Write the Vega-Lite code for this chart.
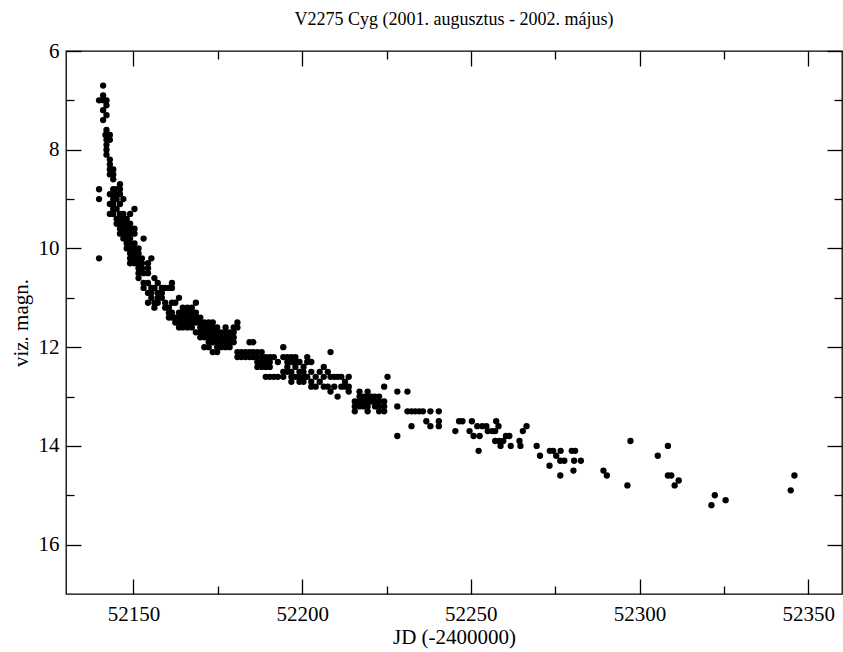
{
 "$schema": "https://vega.github.io/schema/vega-lite/v6.json",
 "width": 776,
 "height": 543,
 "autosize": "none",
 "padding": {"left": 66, "top": 51, "right": 1, "bottom": 58},
 "background": "white",
 "title": {"text": "V2275 Cyg (2001. augusztus - 2002. május)", "font": "Liberation Serif", "fontSize": 18, "fontWeight": "normal", "color": "black", "offset": 11, "anchor": "middle"},
 "data": {"values": [
  {"jd":52139.8,"mag":7.0},{"jd":52139.8,"mag":8.8},{"jd":52139.8,"mag":9.0},{"jd":52139.8,"mag":10.2},
  {"jd":52141,"mag":6.7},{"jd":52141,"mag":6.9},{"jd":52141,"mag":7.0},{"jd":52141,"mag":7.2},{"jd":52141,"mag":7.4},{"jd":52141.7,"mag":7.7},
  {"jd":52142,"mag":7.0},{"jd":52142,"mag":7.1},{"jd":52142,"mag":7.3},{"jd":52142,"mag":7.6},{"jd":52142,"mag":7.8},{"jd":52142,"mag":7.9},{"jd":52142,"mag":8.0},{"jd":52142,"mag":8.1},
  {"jd":52143,"mag":7.7},{"jd":52143,"mag":7.8},{"jd":52143,"mag":8.2},{"jd":52143,"mag":8.3},{"jd":52143,"mag":8.4},{"jd":52143,"mag":8.5},{"jd":52143,"mag":8.9},{"jd":52143,"mag":9.1},{"jd":52143,"mag":9.3},
  {"jd":52144,"mag":8.4},{"jd":52144,"mag":8.5},{"jd":52144,"mag":8.6},{"jd":52144,"mag":8.8},{"jd":52144,"mag":8.9},{"jd":52144,"mag":9.0},{"jd":52144,"mag":9.1},{"jd":52144,"mag":9.2},{"jd":52144,"mag":9.3},
  {"jd":52145,"mag":8.8},{"jd":52145,"mag":8.9},{"jd":52145,"mag":9.0},{"jd":52145,"mag":9.2},{"jd":52145,"mag":9.4},{"jd":52145,"mag":9.5},
  {"jd":52146,"mag":8.7},{"jd":52146,"mag":8.8},{"jd":52146,"mag":8.9},{"jd":52146,"mag":9.1},{"jd":52146,"mag":9.3},{"jd":52146,"mag":9.4},{"jd":52146,"mag":9.5},{"jd":52146,"mag":9.6},{"jd":52146,"mag":9.7},
  {"jd":52147,"mag":9.0},{"jd":52147,"mag":9.3},{"jd":52147,"mag":9.4},{"jd":52147,"mag":9.5},{"jd":52147,"mag":9.6},{"jd":52147,"mag":9.7},{"jd":52147,"mag":9.8},
  {"jd":52148,"mag":9.4},{"jd":52148,"mag":9.5},{"jd":52148,"mag":9.6},{"jd":52148,"mag":9.7},{"jd":52148,"mag":9.8},{"jd":52148,"mag":9.9},{"jd":52148,"mag":10.0},
  {"jd":52149,"mag":9.3},{"jd":52149,"mag":9.5},{"jd":52149,"mag":9.6},{"jd":52149,"mag":9.7},{"jd":52149,"mag":9.8},{"jd":52149,"mag":9.9},{"jd":52149,"mag":10.0},{"jd":52149,"mag":10.1},{"jd":52149,"mag":10.2},{"jd":52149,"mag":10.3},
  {"jd":52150.3,"mag":9.2},{"jd":52150.3,"mag":9.6},{"jd":52150.3,"mag":9.7},{"jd":52150.3,"mag":9.9},{"jd":52150.3,"mag":10.0},{"jd":52150.3,"mag":10.1},{"jd":52150.3,"mag":10.2},{"jd":52150.3,"mag":10.3},
  {"jd":52151.5,"mag":10.0},{"jd":52151.5,"mag":10.1},{"jd":52151.5,"mag":10.2},{"jd":52151.5,"mag":10.3},{"jd":52151.5,"mag":10.4},{"jd":52151.5,"mag":10.5},{"jd":52151.5,"mag":10.6},
  {"jd":52152.5,"mag":10.2},{"jd":52152.5,"mag":10.3},{"jd":52152.5,"mag":10.4},
  {"jd":52153,"mag":9.8},{"jd":52153,"mag":10.5},{"jd":52153,"mag":10.7},{"jd":52153,"mag":10.8},
  {"jd":52154.3,"mag":10.3},{"jd":52154.3,"mag":10.4},{"jd":52154.3,"mag":10.5},{"jd":52154.3,"mag":10.7},{"jd":52154.3,"mag":10.9},{"jd":52154.3,"mag":11.1},
  {"jd":52155.3,"mag":10.2},{"jd":52155.3,"mag":10.8},{"jd":52155.3,"mag":10.9},{"jd":52155.3,"mag":11.0},
  {"jd":52156.2,"mag":10.6},{"jd":52156.2,"mag":10.8},{"jd":52156.2,"mag":11.1},{"jd":52156.2,"mag":11.2},
  {"jd":52157.2,"mag":10.7},{"jd":52157.2,"mag":10.9},{"jd":52157.2,"mag":11.0},{"jd":52157.2,"mag":11.1},
  {"jd":52158.4,"mag":10.8},{"jd":52158.4,"mag":10.9},{"jd":52158.4,"mag":11.0},
  {"jd":52159.4,"mag":10.8},{"jd":52159.4,"mag":11.1},{"jd":52159.4,"mag":11.2},
  {"jd":52160.5,"mag":10.8},{"jd":52160.5,"mag":11.2},{"jd":52160.5,"mag":11.3},{"jd":52160.5,"mag":11.4},
  {"jd":52161.4,"mag":10.7},{"jd":52161.4,"mag":10.8},{"jd":52161.4,"mag":11.1},{"jd":52161.4,"mag":11.3},{"jd":52161.4,"mag":11.4},
  {"jd":52162.4,"mag":11.1},{"jd":52162.4,"mag":11.4},{"jd":52162.4,"mag":11.5},
  {"jd":52163.5,"mag":11.0},{"jd":52163.5,"mag":11.3},{"jd":52163.5,"mag":11.4},{"jd":52163.5,"mag":11.5},{"jd":52163.5,"mag":11.6},
  {"jd":52164.6,"mag":11.2},{"jd":52164.6,"mag":11.3},{"jd":52164.6,"mag":11.4},{"jd":52164.6,"mag":11.5},{"jd":52164.6,"mag":11.6},
  {"jd":52166,"mag":11.2},{"jd":52166,"mag":11.3},{"jd":52166,"mag":11.4},{"jd":52166,"mag":11.5},{"jd":52166,"mag":11.6},
  {"jd":52167.3,"mag":11.2},{"jd":52167.3,"mag":11.3},{"jd":52167.3,"mag":11.4},{"jd":52167.3,"mag":11.5},{"jd":52167.3,"mag":11.6},
  {"jd":52168.5,"mag":11.1},{"jd":52168.5,"mag":11.3},{"jd":52168.5,"mag":11.4},{"jd":52168.5,"mag":11.5},{"jd":52168.5,"mag":11.7},
  {"jd":52169.8,"mag":11.4},{"jd":52169.8,"mag":11.5},{"jd":52169.8,"mag":11.6},{"jd":52169.8,"mag":11.7},{"jd":52169.8,"mag":11.8},
  {"jd":52171,"mag":11.5},{"jd":52171,"mag":11.6},{"jd":52171,"mag":11.7},{"jd":52171,"mag":11.8},{"jd":52171,"mag":12.0},
  {"jd":52172.3,"mag":11.5},{"jd":52172.3,"mag":11.6},{"jd":52172.3,"mag":11.7},{"jd":52172.3,"mag":11.8},{"jd":52172.3,"mag":11.9},{"jd":52172.3,"mag":12.0},
  {"jd":52173.5,"mag":11.5},{"jd":52173.5,"mag":11.6},{"jd":52173.5,"mag":11.7},{"jd":52173.5,"mag":11.8},{"jd":52173.5,"mag":11.9},{"jd":52173.5,"mag":12.1},
  {"jd":52174.8,"mag":11.6},{"jd":52174.8,"mag":11.7},{"jd":52174.8,"mag":11.8},{"jd":52174.8,"mag":11.9},{"jd":52174.8,"mag":12.0},{"jd":52174.8,"mag":12.1},
  {"jd":52176,"mag":11.7},{"jd":52176,"mag":11.8},{"jd":52176,"mag":11.9},{"jd":52176,"mag":12.0},
  {"jd":52177.3,"mag":11.6},{"jd":52177.3,"mag":11.7},{"jd":52177.3,"mag":11.8},{"jd":52177.3,"mag":11.9},{"jd":52177.3,"mag":12.0},
  {"jd":52178.5,"mag":11.7},{"jd":52178.5,"mag":11.8},{"jd":52178.5,"mag":11.9},{"jd":52178.5,"mag":12.0},
  {"jd":52179.7,"mag":11.6},{"jd":52179.7,"mag":11.7},{"jd":52179.7,"mag":11.8},{"jd":52179.7,"mag":11.9},
  {"jd":52180.8,"mag":11.5},{"jd":52180.8,"mag":11.6},{"jd":52180.8,"mag":12.1},{"jd":52180.8,"mag":12.2},
  {"jd":52182,"mag":12.1},{"jd":52182,"mag":12.2},
  {"jd":52183.2,"mag":12.1},{"jd":52183.2,"mag":12.2},
  {"jd":52184.4,"mag":11.9},{"jd":52184.4,"mag":12.1},{"jd":52184.4,"mag":12.2},
  {"jd":52185.5,"mag":11.9},{"jd":52185.5,"mag":12.1},{"jd":52185.5,"mag":12.2},
  {"jd":52186.7,"mag":12.1},{"jd":52186.7,"mag":12.2},{"jd":52186.7,"mag":12.3},{"jd":52186.7,"mag":12.4},
  {"jd":52188,"mag":12.1},{"jd":52188,"mag":12.2},{"jd":52188,"mag":12.3},{"jd":52188,"mag":12.4},
  {"jd":52189.2,"mag":12.2},{"jd":52189.2,"mag":12.3},{"jd":52189.2,"mag":12.4},{"jd":52189.2,"mag":12.6},
  {"jd":52190.4,"mag":12.2},{"jd":52190.4,"mag":12.3},{"jd":52190.4,"mag":12.4},{"jd":52190.4,"mag":12.6},
  {"jd":52191.6,"mag":12.2},{"jd":52191.6,"mag":12.6},
  {"jd":52192.8,"mag":12.3},{"jd":52192.8,"mag":12.6},
  {"jd":52194.4,"mag":12.0},{"jd":52194.4,"mag":12.2},{"jd":52194.4,"mag":12.5},{"jd":52194.4,"mag":12.6},
  {"jd":52195.6,"mag":12.2},{"jd":52195.6,"mag":12.3},{"jd":52195.6,"mag":12.4},{"jd":52195.6,"mag":12.5},
  {"jd":52196.8,"mag":12.2},{"jd":52196.8,"mag":12.3},{"jd":52196.8,"mag":12.5},{"jd":52196.8,"mag":12.6},{"jd":52196.8,"mag":12.7},
  {"jd":52198,"mag":12.2},{"jd":52198,"mag":12.3},{"jd":52198,"mag":12.4},{"jd":52198,"mag":12.6},
  {"jd":52199.2,"mag":12.3},{"jd":52199.2,"mag":12.5},{"jd":52199.2,"mag":12.6},{"jd":52199.2,"mag":12.7},
  {"jd":52200.4,"mag":12.4},{"jd":52200.4,"mag":12.5},{"jd":52200.4,"mag":12.6},{"jd":52200.4,"mag":12.7},
  {"jd":52201.5,"mag":12.2},{"jd":52201.5,"mag":12.3},{"jd":52201.5,"mag":12.6},
  {"jd":52202.7,"mag":12.3},{"jd":52202.7,"mag":12.5},{"jd":52202.7,"mag":12.7},{"jd":52202.7,"mag":12.8},
  {"jd":52204,"mag":12.6},{"jd":52204,"mag":12.8},
  {"jd":52205.2,"mag":12.5},{"jd":52205.2,"mag":12.7},
  {"jd":52206.4,"mag":12.4},{"jd":52206.4,"mag":12.6},{"jd":52206.4,"mag":12.8},
  {"jd":52207.6,"mag":12.5},{"jd":52207.6,"mag":12.8},
  {"jd":52208.4,"mag":12.1},{"jd":52208.4,"mag":12.6},{"jd":52208.4,"mag":12.9},
  {"jd":52209.5,"mag":12.6},{"jd":52209.5,"mag":12.8},
  {"jd":52210.5,"mag":12.6},{"jd":52210.5,"mag":13.0},
  {"jd":52211.6,"mag":12.6},{"jd":52211.6,"mag":12.8},
  {"jd":52212.7,"mag":12.7},{"jd":52212.7,"mag":12.8},
  {"jd":52213.8,"mag":12.6},{"jd":52213.8,"mag":12.8},{"jd":52213.8,"mag":12.9},
  {"jd":52215.6,"mag":13.1},{"jd":52215.6,"mag":13.2},{"jd":52215.6,"mag":13.3},
  {"jd":52217,"mag":12.9},{"jd":52217,"mag":13.0},{"jd":52217,"mag":13.1},{"jd":52217,"mag":13.2},
  {"jd":52218.2,"mag":13.0},{"jd":52218.2,"mag":13.1},{"jd":52218.2,"mag":13.2},
  {"jd":52219.4,"mag":12.9},{"jd":52219.4,"mag":13.0},{"jd":52219.4,"mag":13.1},{"jd":52219.4,"mag":13.2},{"jd":52219.4,"mag":13.3},
  {"jd":52220.5,"mag":13.0},{"jd":52220.5,"mag":13.1},
  {"jd":52221.6,"mag":13.0},{"jd":52221.6,"mag":13.1},{"jd":52221.6,"mag":13.2},
  {"jd":52222.8,"mag":13.0},{"jd":52222.8,"mag":13.1},{"jd":52222.8,"mag":13.2},{"jd":52222.8,"mag":13.3},
  {"jd":52224.3,"mag":12.8},{"jd":52224.3,"mag":13.1},{"jd":52224.3,"mag":13.2},{"jd":52224.3,"mag":13.3},
  {"jd":52225.3,"mag":12.6},
  {"jd":52228.2,"mag":12.9},{"jd":52228.2,"mag":13.2},{"jd":52228.2,"mag":13.8},
  {"jd":52231.2,"mag":12.9},{"jd":52231.2,"mag":13.3},
  {"jd":52232.4,"mag":13.3},{"jd":52232.4,"mag":13.6},
  {"jd":52233.5,"mag":13.3},{"jd":52234.7,"mag":13.3},{"jd":52235.8,"mag":13.3},{"jd":52236.8,"mag":13.5},
  {"jd":52238,"mag":13.3},{"jd":52238,"mag":13.6},
  {"jd":52240.5,"mag":13.3},{"jd":52240.5,"mag":13.5},{"jd":52240.5,"mag":13.6},
  {"jd":52245.4,"mag":13.7},{"jd":52246.5,"mag":13.5},{"jd":52247.5,"mag":13.5},{"jd":52249.6,"mag":13.7},
  {"jd":52250.3,"mag":13.5},{"jd":52250.8,"mag":13.8},{"jd":52251.9,"mag":13.6},{"jd":52252.3,"mag":14.1},
  {"jd":52252.6,"mag":13.8},{"jd":52253.4,"mag":13.6},{"jd":52254.6,"mag":13.6},{"jd":52255.0,"mag":13.7},
  {"jd":52256.3,"mag":13.7},{"jd":52257.2,"mag":13.7},{"jd":52257.2,"mag":13.9},{"jd":52257.5,"mag":13.5},
  {"jd":52258.2,"mag":13.6},{"jd":52258.4,"mag":13.9},{"jd":52258.8,"mag":14.0},{"jd":52259.6,"mag":13.9},
  {"jd":52260.4,"mag":13.8},{"jd":52261.4,"mag":13.8},{"jd":52261.8,"mag":14.0},{"jd":52264.4,"mag":13.9},
  {"jd":52264.7,"mag":14.0},{"jd":52265.4,"mag":13.7},{"jd":52266.5,"mag":13.6},{"jd":52269.5,"mag":14.0},
  {"jd":52270.5,"mag":14.2},{"jd":52273.3,"mag":14.4},{"jd":52273.4,"mag":14.1},{"jd":52274.4,"mag":14.1},
  {"jd":52275.3,"mag":14.2},{"jd":52276.5,"mag":14.3},{"jd":52276.5,"mag":14.6},{"jd":52276.6,"mag":14.1},
  {"jd":52277.7,"mag":14.3},{"jd":52279.9,"mag":14.1},{"jd":52280.4,"mag":14.5},{"jd":52280.6,"mag":14.3},
  {"jd":52280.9,"mag":14.1},{"jd":52282.6,"mag":14.3},{"jd":52289.3,"mag":14.5},{"jd":52290.3,"mag":14.6},
  {"jd":52296.4,"mag":14.8},{"jd":52297.3,"mag":13.9},{"jd":52305.4,"mag":14.2},{"jd":52308.4,"mag":14.0},
  {"jd":52308.4,"mag":14.6},{"jd":52309.4,"mag":14.6},{"jd":52310.4,"mag":14.8},{"jd":52311.6,"mag":14.7},
  {"jd":52321.3,"mag":15.2},{"jd":52322.3,"mag":15.0},{"jd":52325.5,"mag":15.1},{"jd":52344.8,"mag":14.9},
  {"jd":52345.9,"mag":14.6}
 ]},
 "layer": [
  {
   "mark": {"type": "point", "shape": "circle", "filled": true, "color": "black", "size": 40, "opacity": 1},
   "encoding": {
    "x": {"field": "jd", "type": "quantitative",
     "scale": {"domain": [52130, 52360], "nice": false, "zero": false},
     "axis": {"orient": "bottom", "title": "JD (-2400000)", "format": "d",
      "values": [52150, 52175, 52200, 52225, 52250, 52275, 52300, 52325, 52350],
      "labelExpr": "datum.value % 50 === 0 ? datum.label : ''",
      "domain": false, "grid": false, "tickColor": "black", "tickWidth": 1.3,
      "tickSize": {"condition": {"test": "datum.value % 50 === 0", "value": -15}, "value": -8},
      "labelPadding": 24, "labelFont": "Liberation Serif", "labelFontSize": 21, "labelColor": "black",
      "labelOverlap": false, "labelFlush": false, "labelBound": false,
      "titleFont": "Liberation Serif", "titleFontSize": 21, "titleFontWeight": "normal", "titleColor": "black", "titlePadding": -5}},
    "y": {"field": "mag", "type": "quantitative",
     "scale": {"domain": [6, 17], "reverse": true, "nice": false, "zero": false},
     "axis": {"orient": "left", "title": "viz. magn.",
      "values": [6, 7, 8, 9, 10, 11, 12, 13, 14, 15, 16],
      "labelExpr": "datum.value % 2 === 0 ? datum.label : ''",
      "domain": false, "grid": false, "tickColor": "black", "tickWidth": 1.3,
      "tickSize": {"condition": {"test": "datum.value % 2 === 0", "value": -15}, "value": -8},
      "labelPadding": 22, "labelFont": "Liberation Serif", "labelFontSize": 21, "labelColor": "black",
      "labelOverlap": false, "labelFlush": false, "labelBound": false,
      "titleFont": "Liberation Serif", "titleFontSize": 21, "titleFontWeight": "normal", "titleColor": "black", "titlePadding": 7}}
   }
  },
  {
   "mark": {"type": "point", "opacity": 0},
   "encoding": {
    "x": {"field": "jd", "type": "quantitative",
     "axis": {"orient": "top", "title": null, "labels": false,
      "values": [52150, 52175, 52200, 52225, 52250, 52275, 52300, 52325, 52350],
      "domain": false, "grid": false, "tickColor": "black", "tickWidth": 1.3,
      "tickSize": {"condition": {"test": "datum.value % 50 === 0", "value": -15}, "value": -8}}},
    "y": {"field": "mag", "type": "quantitative",
     "axis": {"orient": "right", "title": null, "labels": false,
      "values": [6, 7, 8, 9, 10, 11, 12, 13, 14, 15, 16],
      "domain": false, "grid": false, "tickColor": "black", "tickWidth": 1.3,
      "tickSize": {"condition": {"test": "datum.value % 2 === 0", "value": -15}, "value": -8}}}
   }
  }
 ],
 "resolve": {"axis": {"x": "independent", "y": "independent"}},
 "config": {"font": "Liberation Serif", "view": {"stroke": "black", "strokeWidth": 1.3}}
}
